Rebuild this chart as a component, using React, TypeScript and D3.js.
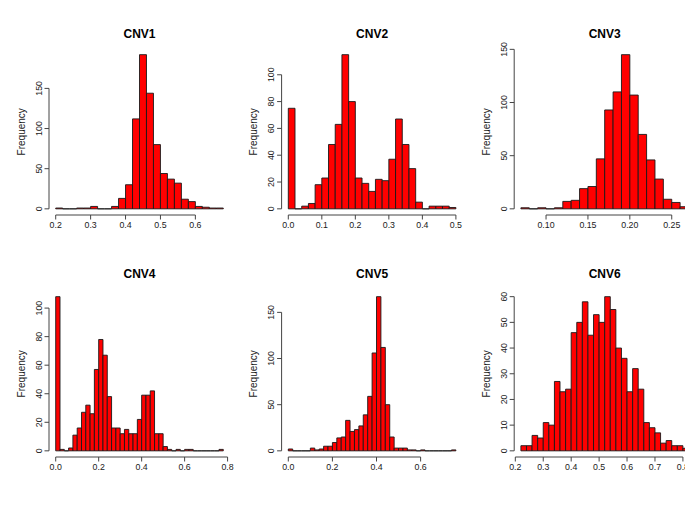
import React from "react";
import * as d3 from "d3";

// ---- Data ----
const panelTitles = ["CNV1", "CNV2", "CNV3", "CNV4", "CNV5", "CNV6"];

// first break and bin width for each panel
const binStarts = [0.2, 0.0, 0.07, 0.0, 0.0, 0.22];
const binWidths = [0.02, 0.02, 0.01, 0.02, 0.02, 0.02];

const cnv1Counts = [1, 0, 0, 1, 1, 3, 0, 0, 3, 13, 30, 112, 192, 144, 80, 44, 37, 32, 12, 9, 3, 2, 1, 1];
const cnv2Counts = [75, 0, 2, 4, 18, 23, 48, 63, 115, 80, 23, 19, 13, 22, 21, 37, 67, 48, 30, 5, 0, 2, 2, 2, 1];
const cnv3Counts = [1, 0, 1, 0, 1, 7, 8, 19, 21, 47, 93, 110, 145, 107, 70, 46, 28, 9, 6, 2];
const cnv4Counts = [108, 1, 0, 2, 11, 16, 27, 32, 26, 57, 78, 67, 38, 16, 16, 12, 15, 12, 12, 22, 39, 39, 42, 12, 12, 3, 1, 0, 1, 0, 1, 1, 0, 0, 0, 0, 0, 0, 1];
const cnv5Counts = [2, 0, 0, 0, 0, 3, 1, 2, 5, 5, 9, 14, 15, 33, 21, 23, 27, 39, 59, 106, 167, 112, 50, 15, 3, 3, 3, 1, 1, 0, 1, 0, 0, 0, 0, 0, 0, 1];
const cnv6Counts = [2, 2, 6, 5, 11, 10, 27, 23, 24, 46, 50, 58, 45, 53, 50, 60, 55, 40, 36, 23, 32, 24, 11, 9, 7, 3, 4, 2, 2, 1];

const allCounts = [cnv1Counts, cnv2Counts, cnv3Counts, cnv4Counts, cnv5Counts, cnv6Counts];

const xTickValues = [
  [0.2, 0.3, 0.4, 0.5, 0.6],
  [0.0, 0.1, 0.2, 0.3, 0.4, 0.5],
  [0.1, 0.15, 0.2, 0.25],
  [0.0, 0.2, 0.4, 0.6, 0.8],
  [0.0, 0.2, 0.4, 0.6],
  [0.2, 0.3, 0.4, 0.5, 0.6, 0.7, 0.8],
];
const xTickDecimals = [1, 1, 2, 1, 1, 1];

const yTickValues = [
  [0, 50, 100, 150],
  [0, 20, 40, 60, 80, 100],
  [0, 50, 100, 150],
  [0, 20, 40, 60, 80, 100],
  [0, 50, 100, 150],
  [0, 10, 20, 30, 40, 50, 60],
];

// ---- Layout ----
const WIDTH = 685;
const HEIGHT = 529;
const PLOT_W = 181;
const PLOT_H = 166.5;
const colLefts = [49, 281.6, 514.2];
const rowTops = [48.5, 290.5];
const titleBaselines = [38, 278];
const FONT = "'Liberation Sans', Arial, Helvetica, sans-serif";
const AXIS_COLOR = "#444";
const TEXT_COLOR = "#1a1a1a";

function Panel({ idx }: { idx: number }) {
  const row = Math.floor(idx / 3);
  const col = idx % 3;
  const left = colLefts[col];
  const top = rowTops[row];
  const bottom = top + PLOT_H;
  const right = left + PLOT_W;

  const counts = allCounts[idx];
  const start = binStarts[idx];
  const w = binWidths[idx];
  const end = start + w * counts.length;
  const range = end - start;
  const maxC = d3.max(counts) as number;

  const x = d3.scaleLinear().domain([start - 0.04 * range, end + 0.04 * range]).range([left, right]);
  const y = d3.scaleLinear().domain([-0.04 * maxC, 1.04 * maxC]).range([bottom, top]);

  const xt = xTickValues[idx];
  const yt = yTickValues[idx];
  const fmt = d3.format("." + xTickDecimals[idx] + "f");

  const tickLen = 4.5;

  return (
    <g>
      {/* bars */}
      {counts.map((c, i) => {
        const x0 = x(start + i * w);
        const x1 = x(start + (i + 1) * w);
        const y0 = y(0);
        const y1 = y(c);
        const p = d3.path();
        p.moveTo(x0, y0);
        p.lineTo(x0, y1);
        p.lineTo(x1, y1);
        p.lineTo(x1, y0);
        p.closePath();
        return (
          <path key={i} d={p.toString()} fill="#ff0000" stroke="#1a1a1a" strokeWidth={0.9} />
        );
      })}

      {/* x axis */}
      <line x1={x(xt[0])} x2={x(xt[xt.length - 1])} y1={bottom} y2={bottom} stroke={AXIS_COLOR} strokeWidth={1} />
      {xt.map((v, i) => (
        <g key={"xt" + i}>
          <line x1={x(v)} x2={x(v)} y1={bottom} y2={bottom + tickLen} stroke={AXIS_COLOR} strokeWidth={1} />
          <text x={x(v)} y={bottom + 10} dy="0.35em" textAnchor="middle" fontSize={8.8} fontFamily={FONT} fill={TEXT_COLOR}>
            {fmt(v)}
          </text>
        </g>
      ))}

      {/* y axis */}
      <line x1={left} x2={left} y1={y(yt[0])} y2={y(yt[yt.length - 1])} stroke={AXIS_COLOR} strokeWidth={1} />
      {yt.map((v, i) => (
        <g key={"yt" + i}>
          <line x1={left - tickLen} x2={left} y1={y(v)} y2={y(v)} stroke={AXIS_COLOR} strokeWidth={1} />
          <text
            transform={`translate(${left - 10.5},${y(v)}) rotate(-90)`}
            dy="0.35em"
            textAnchor="middle"
            fontSize={8.8}
            fontFamily={FONT}
            fill={TEXT_COLOR}
          >
            {String(v)}
          </text>
        </g>
      ))}

      {/* y label */}
      <text
        transform={`translate(${left - 28},${(top + bottom) / 2}) rotate(-90)`}
        dy="0.35em"
        textAnchor="middle"
        fontSize={10}
        fontFamily={FONT}
        fill={TEXT_COLOR}
      >
        Frequency
      </text>

      {/* title */}
      <text x={(left + right) / 2} y={titleBaselines[row]} textAnchor="middle" fontSize={12} fontWeight="bold" fontFamily={FONT} fill="#000">
        {panelTitles[idx]}
      </text>
    </g>
  );
}

export default function App() {
  return (
    <>
      <style>{`html,body{margin:0;padding:0;overflow:hidden;background:#fff}`}</style>
      <svg width={WIDTH} height={HEIGHT} style={{ display: "block" }} xmlns="http://www.w3.org/2000/svg">
        <rect x={0} y={0} width={WIDTH} height={HEIGHT} fill="#fff" />
        {panelTitles.map((_, i) => (
          <Panel key={i} idx={i} />
        ))}
      </svg>
    </>
  );
}
